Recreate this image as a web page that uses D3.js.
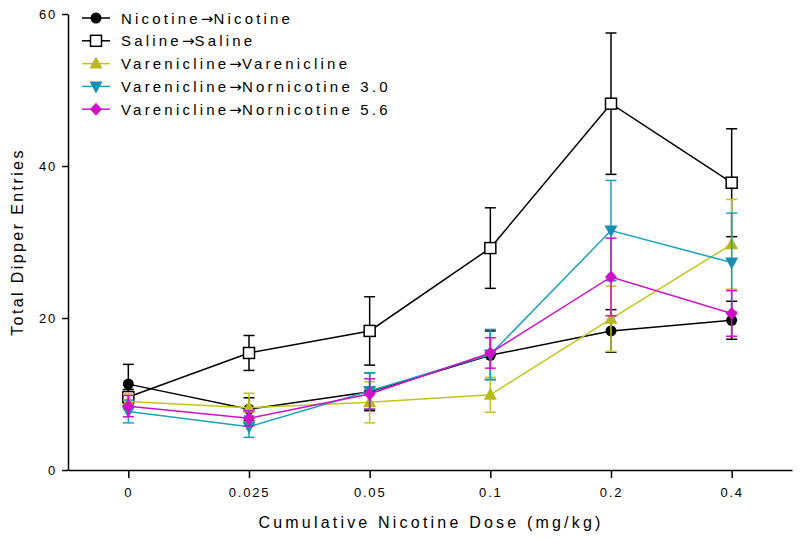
<!DOCTYPE html>
<html><head><meta charset="utf-8">
<script src="https://cdn.jsdelivr.net/npm/d3@7"></script>
<style>body{margin:0;background:#fff}svg{display:block;font-family:"Liberation Sans",Arial,sans-serif}</style>
</head><body><svg id="c" width="800" height="541"></svg>
<script>
const doses = ["0","0.025","0.05","0.1","0.2","0.4"];
const yTicks = [0,20,40,60];
const seriesNames = ["Nicotine\u2192Nicotine","Saline\u2192Saline","Varenicline\u2192Varenicline","Varenicline\u2192Nornicotine 3.0","Varenicline\u2192Nornicotine 5.6"];
const nicMean = [11.3, 8.0, 10.3, 15.1, 18.3, 19.7];
const nicSem  = [2.6, 1.5, 2.5, 3.2, 2.8, 2.5];
const salMean = [9.6, 15.4, 18.3, 29.2, 48.2, 37.8];
const salSem  = [1.0, 2.3, 4.5, 5.3, 9.3, 7.1];
const varMean = [9.0, 8.2, 8.9, 9.9, 19.9, 29.7];
const varSem  = [1.0, 1.9, 2.7, 2.3, 4.3, 5.9];
const nor3Mean = [7.7, 5.7, 10.4, 15.2, 31.5, 27.3];
const nor3Sem  = [1.5, 1.4, 2.4, 3.3, 6.6, 6.5];
const nor56Mean = [8.4, 6.8, 10.0, 15.4, 25.4, 20.6];
const nor56Sem  = [1.4, 1.0, 2.0, 2.0, 5.1, 3.0];

const styles = [
  {color:"#000000", fill:"#000000", shape:"circle"},
  {color:"#000000", fill:"#ffffff", shape:"square"},
  {color:"#c4c41c", fill:"#b8b81a", shape:"up"},
  {color:"#1aa3b8", fill:"#1a8fb3", shape:"down"},
  {color:"#d010c8", fill:"#d010c8", shape:"diamond"}
];
const series = [
  {name:seriesNames[0], mean:nicMean, sem:nicSem},
  {name:seriesNames[1], mean:salMean, sem:salSem},
  {name:seriesNames[2], mean:varMean, sem:varSem},
  {name:seriesNames[3], mean:nor3Mean, sem:nor3Sem},
  {name:seriesNames[4], mean:nor56Mean, sem:nor56Sem}
];

const svg = d3.select("#c");
const x = d3.scalePoint().domain(doses).range([68, 792]).padding(0.5);
const y = d3.scaleLinear().domain([0,60]).range([470,14]);

const xAxis = svg.append("g").attr("transform","translate(0,470)")
  .call(d3.axisBottom(x).tickSize(8).tickPadding(10).tickSizeOuter(0));
xAxis.select(".domain").attr("stroke","#000").attr("stroke-width",1.5);
xAxis.selectAll(".tick line").attr("stroke-width",1.5);
xAxis.selectAll("text").attr("font-size",13).attr("letter-spacing","1.8px").attr("fill","#000");

const yAxis = svg.append("g").attr("transform","translate(68,0)")
  .call(d3.axisLeft(y).tickValues(yTicks).tickSize(6).tickPadding(5).tickSizeOuter(0));
yAxis.select(".domain").attr("stroke","#000").attr("stroke-width",1.5);
yAxis.selectAll(".tick line").attr("stroke-width",1.5);
yAxis.selectAll("text").attr("font-size",13).attr("letter-spacing","1.8px").attr("fill","#000");

svg.append("text").attr("x",431).attr("y",528).attr("text-anchor","middle")
  .attr("font-size",16).attr("letter-spacing","3.2px").text("Cumulative Nicotine Dose (mg/kg)");
svg.append("text").attr("transform","translate(23,242) rotate(-90)").attr("text-anchor","middle")
  .attr("font-size",16).attr("letter-spacing","2.4px").text("Total Dipper Entries");

function marker(g, st, cx, cy){
  if(st.shape==="circle") g.append("circle").attr("cx",cx).attr("cy",cy).attr("r",5.5).attr("fill",st.fill);
  else if(st.shape==="square") g.append("rect").attr("x",cx-5.5).attr("y",cy-5.5).attr("width",11).attr("height",11)
      .attr("fill","#fff").attr("stroke","#000").attr("stroke-width",1.5);
  else if(st.shape==="up") g.append("path").attr("d",`M${cx},${cy-7}L${cx+6.5},${cy+5}L${cx-6.5},${cy+5}Z`).attr("fill",st.fill);
  else if(st.shape==="down") g.append("path").attr("d",`M${cx},${cy+7}L${cx+6.5},${cy-5}L${cx-6.5},${cy-5}Z`).attr("fill",st.fill);
  else g.append("path").attr("d",`M${cx},${cy-6.5}L${cx+6},${cy}L${cx},${cy+6.5}L${cx-6},${cy}Z`).attr("fill",st.fill);
}

const line = d3.line().x((d,i)=>x(doses[i])).y(d=>y(d));
series.forEach((s,k)=>{
  const st = styles[k];
  const g = svg.append("g");
  s.mean.forEach((m,i)=>{
    const cx = x(doses[i]);
    const t = y(m + s.sem[i]), b = y(m - s.sem[i]);
    g.append("line").attr("x1",cx).attr("x2",cx).attr("y1",t).attr("y2",b).attr("stroke",st.color).attr("stroke-width",1.5);
    [t,b].forEach(v=>g.append("line").attr("x1",cx-5.5).attr("x2",cx+5.5).attr("y1",v).attr("y2",v).attr("stroke",st.color).attr("stroke-width",1.5));
  });
  g.append("path").datum(s.mean).attr("d",line).attr("fill","none").attr("stroke",st.color).attr("stroke-width",1.5);
  s.mean.forEach((m,i)=>marker(g, st, x(doses[i]), y(m)));
});

const legend = svg.append("g");
series.forEach((s,k)=>{
  const st = styles[k];
  const ly = 18 + k*22.8;
  const g = legend.append("g");
  g.append("line").attr("x1",82).attr("x2",110).attr("y1",ly).attr("y2",ly).attr("stroke",st.color).attr("stroke-width",1.5);
  marker(g, st, 96, ly);
  const t = g.append("text").attr("x",121).attr("y",ly+5.5).attr("font-size",15).attr("letter-spacing","3.2px");
  const parts = s.name.split("\u2192");
  t.append("tspan").text(parts[0]);
  t.append("tspan").attr("font-family","DejaVu Sans").attr("letter-spacing","0px").text("\u2192");
  t.append("tspan").text(parts[1]);
});
</script></body></html>
